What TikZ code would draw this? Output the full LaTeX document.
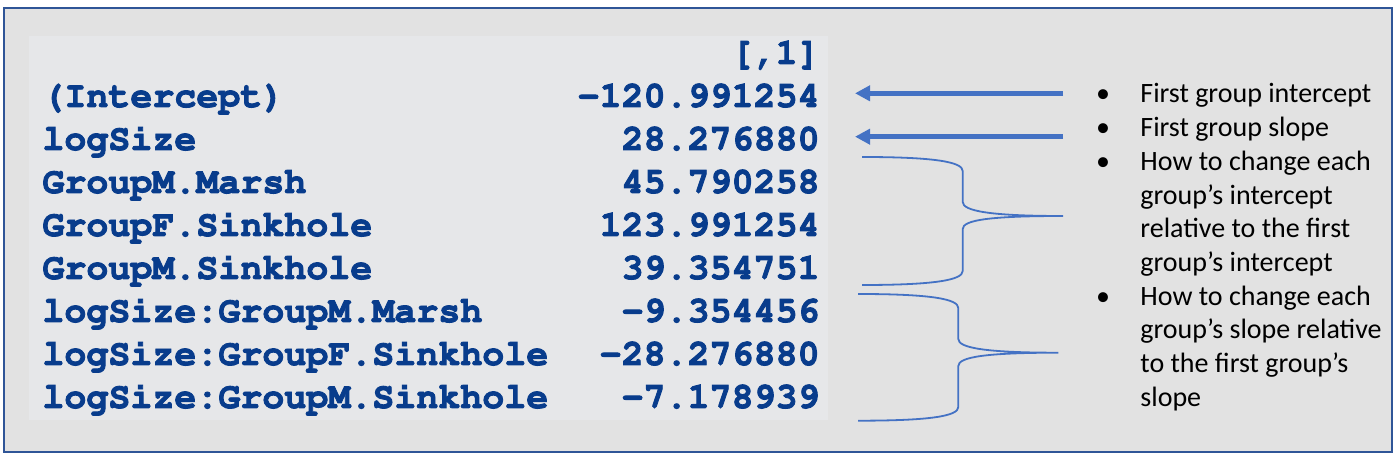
\documentclass[tikz,border=0pt]{standalone}
\usepackage{fontspec}
\newfontfamily\bulletfont{Carlito}
\usetikzlibrary{arrows.meta}
\definecolor{framefill}{RGB}{226,226,226}
\definecolor{frameline}{RGB}{47,85,151}
\definecolor{panelfill}{RGB}{230,231,233}
\definecolor{codeblue}{RGB}{8,60,140}
\definecolor{accent}{RGB}{68,114,196}
\newcommand{\courierbold}{\fontencoding{T1}\fontfamily{pcr}\fontseries{b}\fontshape{n}\fontsize{18.33}{21.5}\selectfont}
\tikzset{
  codetext/.style={inner sep=0pt, text=codeblue, font=\courierbold,
    execute at begin node={\special{pdf:literal direct 2 Tr 0.45 w}},
    execute at end node={\special{pdf:literal direct 0 Tr}}},
  lbl/.style={codetext, anchor=base west},
  val/.style={codetext, anchor=base east},
  btext/.style={inner sep=0pt, anchor=base west, text=black, font=\fontsize{14}{16.85}\selectfont\bulletfont},
  bdot/.style={inner sep=0pt, anchor=base, text=black, font=\fontsize{14}{16.85}\selectfont\bulletfont},
  bigarrow/.style={draw=accent, line width=2.5pt, -{Triangle[length=7.5pt,width=7.5pt]}},
  brace/.style={draw=accent, line width=0.9pt}
}
\begin{document}
\begin{tikzpicture}[x=0.5pt,y=-0.5pt]
\useasboundingbox (0,0) rectangle (1396,458);
\fill[white] (0,0) rectangle (1396,458);
\draw[fill=framefill, draw=frameline, line width=1pt] (4,8) rectangle (1392,452);
\fill[panelfill] (29,36) rectangle (828,420);

% code rows
\node[val] (hdr) at (820,64) {[,1]};
\node[lbl] (l1) at (42,107) {(Intercept)};
\node[val] (v1) at (820,107) {-120.991254};
\node[lbl] (l2) at (42,150) {logSize};
\node[val] (v2) at (820,150) {28.276880};
\node[lbl] (l3) at (42,193) {GroupM.Marsh};
\node[val] (v3) at (820,193) {45.790258};
\node[lbl] (l4) at (42,236) {GroupF.Sinkhole};
\node[val] (v4) at (820,236) {123.991254};
\node[lbl] (l5) at (42,279) {GroupM.Sinkhole};
\node[val] (v5) at (820,279) {39.354751};
\node[lbl] (l6) at (42,322) {logSize:GroupM.Marsh};
\node[val] (v6) at (820,322) {-9.354456};
\node[lbl] (l7) at (42,365) {logSize:GroupF.Sinkhole};
\node[val] (v7) at (820,365) {-28.276880};
\node[lbl] (l8) at (42,408) {logSize:GroupM.Sinkhole};
\node[val] (v8) at (820,408) {-7.178939};

% arrows
\coordinate (a1s) at (1063,93.3);
\coordinate (a1e) at (855,93.3);
\coordinate (a2s) at (1063,136.7);
\coordinate (a2e) at (855,136.7);
\draw[bigarrow] (a1s) -- (a1e);
\draw[bigarrow] (a2s) -- (a2e);

% braces
\draw[brace] (862,157) .. controls (935,157) and (962.7,162) .. (962.7,171)
  -- (962.7,202) .. controls (962.7,211) and (990,216) .. (1063,216)
  .. controls (990,216) and (962.7,220) .. (962.7,229)
  -- (962.7,271) .. controls (962.7,280) and (935,285) .. (862,285);
\draw[brace] (858,294) .. controls (931,294) and (958.3,299) .. (958.3,308)
  -- (958.3,339) .. controls (958.3,348) and (986,352.7) .. (1058.3,352.7)
  .. controls (986,352.7) and (958.3,357) .. (958.3,366)
  -- (958.3,407) .. controls (958.3,416) and (931,420.7) .. (858,420.7);

% bullet list
\node[bdot] (b1) at (1103,103) {•};
\node[btext] (t1) at (1140,103) {First group intercept};
\node[bdot] (b2) at (1103,136.7) {•};
\node[btext] (t2) at (1140,136.7) {First group slope};
\node[bdot] (b3) at (1103,170.4) {•};
\node[btext] (t3a) at (1140,170.4) {How to change each};
\node[btext] (t3b) at (1140,204.1) {group’s intercept};
\node[btext] (t3c) at (1140,237.8) {relative to the first};
\node[btext] (t3d) at (1140,271.5) {group’s intercept};
\node[bdot] (b4) at (1103,305.2) {•};
\node[btext] (t4a) at (1140,305.2) {How to change each};
\node[btext] (t4b) at (1140,338.9) {group’s slope relative};
\node[btext] (t4c) at (1140,372.6) {to the first group’s};
\node[btext] (t4d) at (1140,406.3) {slope};
\end{tikzpicture}
\end{document}
